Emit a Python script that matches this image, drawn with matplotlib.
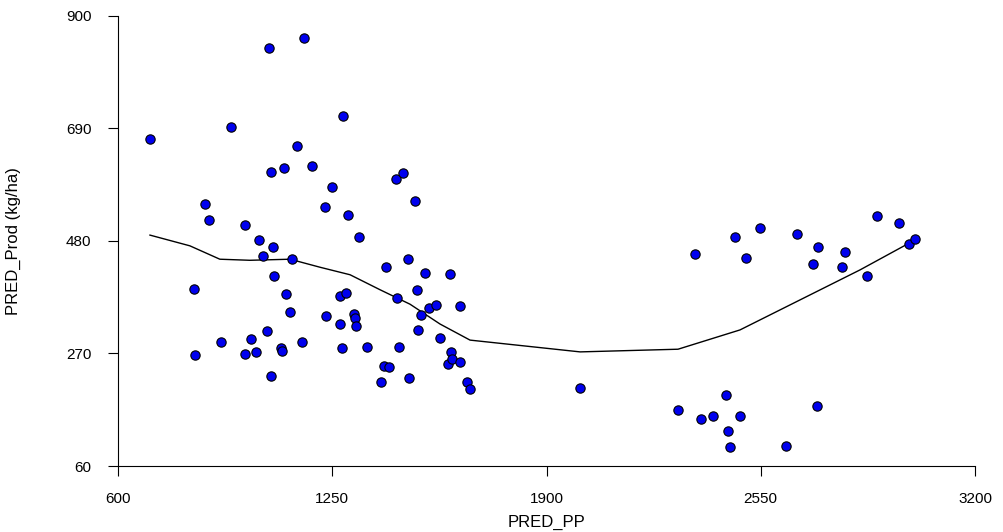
import matplotlib
matplotlib.use("Agg")
import matplotlib.pyplot as plt

px = [697,831,834,864,876,913,943,985,985,1004,1019,1028,1040,1052,1058,1064,1064,1070,1073,1095,1098,1104,1110,1122,1128,1143,1158,1165,1189,1228,1231,1249,1274,1274,1280,1283,1292,1298,1316,1319,1322,1331,1356,1398,1413,1407,1422,1443,1446,1452,1464,1480,1483,1501,1507,1510,1519,1531,1544,1565,1577,1601,1607,1610,1613,1638,1638,1659,1668,2002,2299,2350,2368,2405,2444,2450,2456,2471,2487,2505,2547,2626,2659,2708,2723,2720,2796,2805,2872,2902,2969,3000,3018]
py = [670,390,267,549,519,291,693,510,269,297,272,482,452,312,840,609,228,469,415,280,275,616,381,347,446,657,291,859,620,543,340,581,325,377,280,713,383,528,344,336,321,488,282,217,432,247,245,595,374,282,606,446,224,555,388,314,342,421,355,361,299,250,419,272,260,254,359,217,204,206,165,456,147,153,193,125,95,488,153,449,504,97,493,437,469,172,432,460,415,527,514,474,484]
lx = [697,818,909,1000,1122,1213,1304,1395,1486,1577,1668,2002,2299,2487,2669,2851,3018]
ly = [491,471,446,444,446,431,417,389,362,325,295,273,278,314,370,426,482]

plt.rcParams['font.family'] = ['Liberation Sans', 'DejaVu Sans']
fig = plt.figure(figsize=(10.04, 5.32), dpi=100)
ax = fig.add_axes([118/1004, 1-466/532, (975-118)/1004, (466-16)/532])
ax.plot(lx, ly, color='black', lw=1)
ax.scatter(px, py, s=45, c='#0000ee', edgecolors='black', linewidths=0.8, zorder=3)
ax.set_xlim(600, 3200)
ax.set_ylim(60, 900)
ax.set_xticks([600, 1250, 1900, 2550, 3200])
ax.set_yticks([60, 270, 480, 690, 900])
for s in ['top', 'right']:
    ax.spines[s].set_visible(False)
ax.tick_params(direction='out', length=7, labelsize=11)
ax.tick_params(axis='x', pad=12)
ax.tick_params(axis='y', pad=12)
ax.set_xlabel('PRED_PP', fontsize=12)
ax.set_ylabel('PRED_Prod (kg/ha)', fontsize=12)
ax.xaxis.set_label_coords(0.5, -0.108)
ax.yaxis.set_label_coords(-0.113, 0.5)
fig.savefig('out.png', dpi=100)
